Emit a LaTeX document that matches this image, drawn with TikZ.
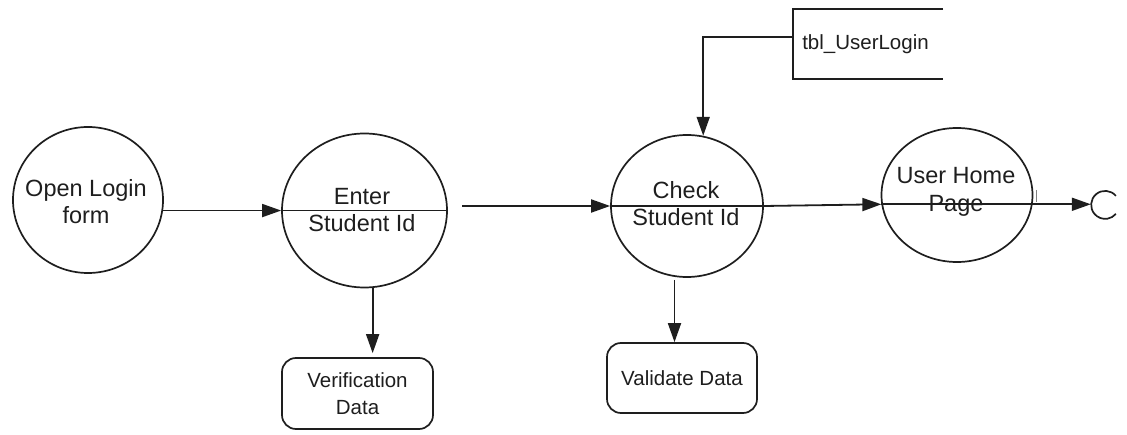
\documentclass[tikz,border=0pt]{standalone}
\usepackage{fontspec}
\setmainfont{Liberation Sans}
\usetikzlibrary{shapes.geometric,arrows.meta,calc}
\definecolor{ink}{RGB}{30,30,30}
\begin{document}
\begin{tikzpicture}[x=1pt,y=-1pt,
  proc/.style={ellipse,draw=ink,line width=1.7pt,inner sep=0pt},
  ptext/.style={font=\fontsize{23.5}{27.5}\selectfont,align=center,inner sep=0pt,text=ink},
  btext/.style={font=\fontsize{20.5}{26.5}\selectfont,align=center,inner sep=0pt,text=ink},
  roundbox/.style={draw=ink,rounded corners=14pt,line width=1.7pt,font=\fontsize{20.5}{26.5}\selectfont,align=center,text=ink},
  flow/.style={draw=ink,line width=1.8pt,-{Triangle[length=19pt,width=13pt]}},
  plainline/.style={draw=ink,line width=1.8pt}]
\useasboundingbox (0,0) rectangle (1127,435);

% processes
\node[proc,minimum width=150pt,minimum height=146pt] (open) at (88,200) {};
\node[proc,minimum width=165pt,minimum height=154pt] (enter) at (364.5,210.5) {};
\node[proc,minimum width=152pt,minimum height=142pt] (check) at (687,206) {};
\node[proc,minimum width=151pt,minimum height=134pt] (user) at (957,195) {};
\node[circle,minimum size=28pt,inner sep=0pt] (endc) at (1105,205) {};
\draw[ink,line width=1.7pt] (endc.40) arc[start angle=40,end angle=320,radius=14pt];

% process texts
\node[ptext] (openT) at (86,201.5) {Open Login\\form};
\node[ptext] (enterT) at (362,210) {Enter\\Student Id};
\node[ptext] (checkT) at (686,203.5) {Check\\Student Id};
\node[ptext] (userT) at (956,192) {User Home\\Page};

% divider lines
\draw[plainline] (enter.west) -- (enter.east);
\draw[plainline] (check.west) -- (check.east);
\draw[plainline] (user.187.6) -- (user.-7.6);

% data store
\coordinate (tblTL) at (793,9);
\coordinate (tblBL) at (793,79);
\coordinate (tblTR) at (943,9);
\coordinate (tblBR) at (943,79);
\coordinate (tblIn) at (793,37);
\draw[plainline] (tblTR) -- (tblTL) -- (tblBL) -- (tblBR);
\node[btext,anchor=base] (tbl) at (865.5,50) {tbl\_UserLogin};

% boxes
\node[roundbox,minimum width=151pt,minimum height=71pt] (verif) at (357.5,393.5) {Verification\\Data};
\node[roundbox,minimum width=150pt,minimum height=70pt] (valid) at (682,378) {Validate Data};

% flows
\coordinate (e2c) at (462,206);
\draw[flow] (open.-8) -- (open.-8 -| enter.west);
\draw[flow] (e2c) -- (check.west);
\draw[flow] (check.east) -- (user.187.6);
\draw[flow] (user.-7.6) -- (user.-7.6 -| endc.west);
\draw[flow] (tblIn) -| (check.77);
\draw[flow,shorten >=4pt] (enter.-84.4) -- (enter.-84.4 |- verif.north);
\draw[flow,shorten <=3pt] (check.-100.5) -- (check.-100.5 |- valid.north);

% small tick mark
\coordinate (tickA) at (1036,190);
\coordinate (tickB) at (1036,202);
\draw[gray,line width=0.8pt] (tickA) -- (tickB);
\end{tikzpicture}
\end{document}
